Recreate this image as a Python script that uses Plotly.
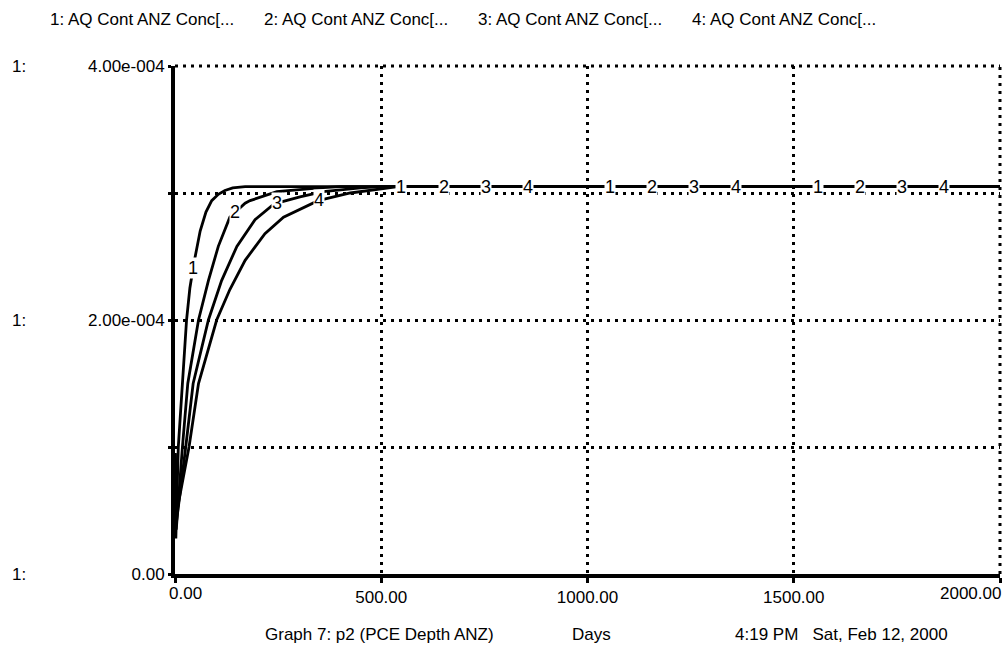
import numpy as np
import plotly.graph_objects as go

# ---- data (concentrations in units of 1e-4) ----
days_1 = [0, 2, 8, 18, 28, 36, 46, 61, 75, 89, 105, 121, 140, 170, 2000]
conc_1 = [0.95, 0.28, 1.00, 1.50, 2.00, 2.25, 2.45, 2.70, 2.85, 2.94, 2.99, 3.02, 3.04, 3.05, 3.05]

days_2 = [0, 3, 18, 31, 57, 81, 105, 133, 150, 170, 182, 247, 350, 400, 2000]
conc_2 = [0.95, 0.35, 1.00, 1.50, 2.00, 2.31, 2.58, 2.81, 2.86, 2.92, 2.94, 3.01, 3.04, 3.05, 3.05]

days_3 = [0, 4, 26, 44, 81, 113, 150, 194, 235, 247, 303, 359, 450, 500, 2000]
conc_3 = [0.95, 0.42, 1.00, 1.50, 2.00, 2.31, 2.58, 2.79, 2.90, 2.92, 2.97, 3.01, 3.04, 3.05, 3.05]

days_4 = [0, 5, 34, 57, 101, 133, 170, 218, 263, 347, 425, 510, 540, 2000]
conc_4 = [0.95, 0.50, 1.00, 1.50, 2.00, 2.24, 2.47, 2.68, 2.81, 2.94, 3.00, 3.04, 3.05, 3.05]

series_names = ["1: AQ Cont ANZ Conc[...", "2: AQ Cont ANZ Conc[...",
                "3: AQ Cont ANZ Conc[...", "4: AQ Cont ANZ Conc[..."]
x_tick_vals = [0, 500, 1000, 1500, 2000]
x_tick_text = ["0.00", "500.00", "1000.00", "1500.00", "2000.00"]
y_tick_vals = [0, 1e-4, 2e-4, 3e-4, 4e-4]
y_tick_text = ["0.00", "", "2.00e-004", "", "4.00e-004"]

SCALE = 1e-4
FONT = "Liberation Sans, Arial, sans-serif"
GRID_DASH = "3px,5px"

# plot-area geometry in pixels (for paper-coordinate annotations)
W, H = 1008, 649
L, R, T, B = 175, 8, 66, 75
PW, PH = W - L - R, H - T - B


def px_x(x):
    return (x - L) / PW


def px_y(y):
    return (H - B - y) / PH


fig = go.Figure()
all_days = [days_1, days_2, days_3, days_4]
all_conc = [conc_1, conc_2, conc_3, conc_4]
for name, d, c in zip(series_names, all_days, all_conc):
    fig.add_trace(go.Scatter(
        x=d, y=[v * SCALE for v in c], mode="lines", name=name,
        line=dict(color="black", width=2.8), showlegend=False,
        hoverinfo="skip"))

annotations = []
# curve number labels placed along each curve (Stella style)
for k, (d, c) in enumerate(zip(all_days, all_conc)):
    for n in range(4):
        day = 44 + k * 102 + n * 505
        val = float(np.interp(day, d, c)) * SCALE
        annotations.append(dict(
            x=day, y=val, xref="x", yref="y", text=str(k + 1),
            showarrow=False, bgcolor="white", borderpad=0,
            font=dict(family=FONT, size=18, color="black"),
            xanchor="center", yanchor="middle"))

# legend texts on top
for i, name in enumerate(series_names):
    annotations.append(dict(
        x=px_x(48 + i * 214), y=px_y(20), xref="paper", yref="paper",
        text=name, showarrow=False, xanchor="left", yanchor="middle",
        font=dict(family=FONT, size=17, color="black")))

# "1:" row labels at the left
for yv in [0, 2e-4, 4e-4]:
    annotations.append(dict(
        x=px_x(10), y=yv, xref="paper", yref="y", text="1:",
        showarrow=False, xanchor="left", yanchor="middle",
        font=dict(family=FONT, size=17, color="black")))

# end x tick labels
annotations.append(dict(x=px_x(167), y=px_y(593), xref="paper", yref="paper",
                        text=x_tick_text[0], showarrow=False, xanchor="left",
                        yanchor="middle", font=dict(family=FONT, size=17, color="black")))
annotations.append(dict(x=px_x(1003), y=px_y(593), xref="paper", yref="paper",
                        text=x_tick_text[-1], showarrow=False, xanchor="right",
                        yanchor="middle", font=dict(family=FONT, size=17, color="black")))

# footer texts
footer = [("Graph 7: p2 (PCE Depth ANZ)", 263), ("Days", 570),
          ("4:19 PM   Sat, Feb 12, 2000", 733)]
for txt, xp in footer:
    annotations.append(dict(
        x=px_x(xp), y=px_y(634), xref="paper", yref="paper", text=txt,
        showarrow=False, xanchor="left", yanchor="middle",
        font=dict(family=FONT, size=17, color="black")))

# dotted top and right borders (grid lines at the range ends)
shapes = [
    dict(type="line", xref="paper", yref="paper", x0=0, x1=1, y0=1, y1=1,
         line=dict(color="black", width=3, dash=GRID_DASH), layer="below"),
    dict(type="line", xref="paper", yref="paper", x0=1, x1=1, y0=0, y1=1,
         line=dict(color="black", width=3, dash=GRID_DASH), layer="below"),
]

fig.update_layout(
    width=W, height=H,
    margin=dict(l=L, r=R, t=T, b=B, pad=0),
    paper_bgcolor="white", plot_bgcolor="white",
    font=dict(family=FONT, size=17, color="black"),
    annotations=annotations, shapes=shapes,
    showlegend=False,
)
fig.update_xaxes(
    range=[0, 2000], tickvals=x_tick_vals,
    ticktext=["", "500.00", "1000.00", "1500.00", ""],
    showgrid=True, gridcolor="black", gridwidth=3, griddash=GRID_DASH,
    showline=True, linecolor="black", linewidth=4,
    ticks="outside", ticklen=5, tickwidth=3, tickcolor="black",
    zeroline=False, tickfont=dict(family=FONT, size=17, color="black"))
fig.update_yaxes(
    range=[0, 4e-4], tickvals=y_tick_vals, ticktext=y_tick_text,
    showgrid=True, gridcolor="black", gridwidth=3, griddash=GRID_DASH,
    showline=True, linecolor="black", linewidth=4,
    ticks="outside", ticklen=3, tickwidth=3, tickcolor="black",
    zeroline=False, tickfont=dict(family=FONT, size=17, color="black"))

fig.write_html("out.html")
